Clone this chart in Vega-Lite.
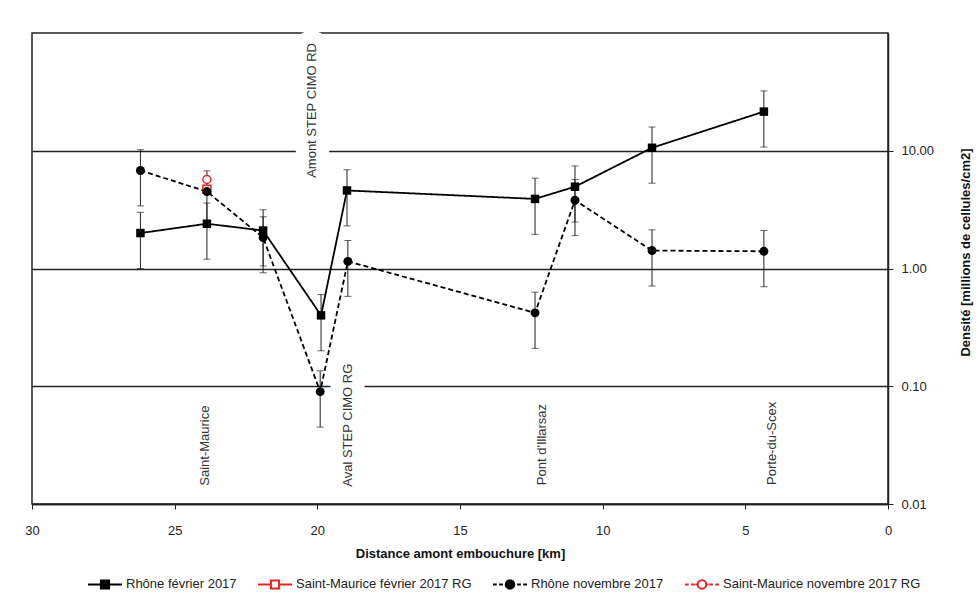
{
  "$schema": "https://vega.github.io/schema/vega-lite/v6.json",
  "width": 856,
  "height": 471,
  "autosize": {"type": "none"},
  "padding": {"left": 32, "top": 33, "right": 91, "bottom": 104},
  "background": "white",
  "config": {
    "font": "Liberation Sans",
    "view": {"stroke": "#222", "strokeWidth": 1.5},
    "axis": {"labelFont": "Liberation Sans", "titleFont": "Liberation Sans", "labelColor": "#222", "titleColor": "#111", "domainColor": "#222", "tickColor": "#222"}
  },
  "datasets": {
    "pts": [
      {"series": "Rhône février 2017", "km": 26.2, "value": 2.0, "lo": 1.0, "hi": 3.0},
      {"series": "Rhône février 2017", "km": 23.87, "value": 2.4, "lo": 1.2, "hi": 3.6},
      {"series": "Rhône février 2017", "km": 21.9, "value": 2.1, "lo": 1.05, "hi": 3.15},
      {"series": "Rhône février 2017", "km": 19.87, "value": 0.4, "lo": 0.2, "hi": 0.6},
      {"series": "Rhône février 2017", "km": 18.96, "value": 4.6, "lo": 2.3, "hi": 6.9},
      {"series": "Rhône février 2017", "km": 12.37, "value": 3.9, "lo": 1.95, "hi": 5.85},
      {"series": "Rhône février 2017", "km": 10.97, "value": 4.95, "lo": 2.48, "hi": 7.43},
      {"series": "Rhône février 2017", "km": 8.27, "value": 10.6, "lo": 5.3, "hi": 15.9},
      {"series": "Rhône février 2017", "km": 4.35, "value": 21.5, "lo": 10.75, "hi": 32.25},
      {"series": "Rhône novembre 2017", "km": 26.2, "value": 6.8, "lo": 3.4, "hi": 10.2},
      {"series": "Rhône novembre 2017", "km": 23.87, "value": 4.5, "lo": 2.25, "hi": 6.75},
      {"series": "Rhône novembre 2017", "km": 21.9, "value": 1.83, "lo": 0.92, "hi": 2.75},
      {"series": "Rhône novembre 2017", "km": 19.9, "value": 0.09, "lo": 0.045, "hi": 0.135},
      {"series": "Rhône novembre 2017", "km": 18.93, "value": 1.15, "lo": 0.58, "hi": 1.73},
      {"series": "Rhône novembre 2017", "km": 12.37, "value": 0.42, "lo": 0.21, "hi": 0.63},
      {"series": "Rhône novembre 2017", "km": 10.97, "value": 3.8, "lo": 1.9, "hi": 5.7},
      {"series": "Rhône novembre 2017", "km": 8.27, "value": 1.42, "lo": 0.71, "hi": 2.13},
      {"series": "Rhône novembre 2017", "km": 4.35, "value": 1.4, "lo": 0.7, "hi": 2.1},
      {"series": "Saint-Maurice février 2017 RG", "km": 23.87, "value": 4.7},
      {"series": "Saint-Maurice novembre 2017 RG", "km": 23.87, "value": 5.7}
    ],
    "labels": [
      {"label": "Saint-Maurice", "km": 23.94, "value": 0.0313, "boxed": true},
      {"label": "Aval STEP CIMO RG", "km": 18.93, "value": 0.0467, "boxed": true},
      {"label": "Pont d'Illarsaz", "km": 12.13, "value": 0.032, "boxed": false},
      {"label": "Porte-du-Scex", "km": 4.07, "value": 0.0327, "boxed": false},
      {"label": "Amont STEP CIMO RD", "km": 20.19, "value": 22.0, "boxed": true}
    ]
  },
  "layer": [
    {
      "data": {"name": "labels"},
      "transform": [{"filter": "datum.boxed"}],
      "mark": {"type": "text", "angle": 270, "align": "center", "baseline": "middle", "fontSize": 13, "fill": "white", "stroke": "white", "strokeWidth": 26, "strokeJoin": "round"},
      "encoding": {
        "x": {"field": "km", "type": "quantitative", "scale": {"domain": [0, 30], "reverse": true, "nice": false, "zero": false},
              "axis": {"values": [0, 5, 10, 15, 20, 25, 30], "grid": false, "title": "Distance amont embouchure [km]", "titleFontSize": 13, "titleFontWeight": "bold", "titlePadding": 10, "labelFontSize": 13, "labelPadding": 15, "tickSize": 5, "domainWidth": 1.5, "labelFlush": false}},
        "y": {"field": "value", "type": "quantitative", "title": "Densité [millions de cellules/cm2]", "scale": {"type": "log", "domain": [0.01, 100], "nice": false},
              "axis": {"orient": "right", "values": [0.01, 0.1, 1, 10], "format": ".2f", "grid": true, "gridColor": "#222", "gridWidth": 1.5, "tickSize": 5, "labelPadding": 8, "labelFontSize": 13, "titleFontWeight": "bold", "titleFontSize": 13, "titleAngle": 270, "titleX": 77, "titleY": 219, "titleBaseline": "middle", "titleAlign": "center", "domainWidth": 1.5}},
        "text": {"field": "label"}
      }
    },
    {
      "data": {"name": "labels"},
      "mark": {"type": "text", "angle": 270, "align": "center", "baseline": "middle", "fontSize": 13, "color": "#333"},
      "encoding": {
        "x": {"field": "km", "type": "quantitative"},
        "y": {"field": "value", "type": "quantitative", "title": "Densité [millions de cellules/cm2]"},
        "text": {"field": "label"}
      }
    },
    {
      "data": {"name": "pts"},
      "transform": [{"filter": "isValid(datum.lo)"}],
      "mark": {"type": "errorbar", "ticks": {"size": 7}, "color": "#222", "thickness": 1},
      "encoding": {
        "x": {"field": "km", "type": "quantitative"},
        "y": {"field": "lo", "type": "quantitative", "title": "Densité [millions de cellules/cm2]"},
        "y2": {"field": "hi"}
      }
    },
    {
      "data": {"name": "pts"},
      "transform": [{"filter": "isValid(datum.lo)"}],
      "mark": {"type": "line", "color": "black", "strokeWidth": 1.8},
      "encoding": {
        "x": {"field": "km", "type": "quantitative"},
        "y": {"field": "value", "type": "quantitative", "title": "Densité [millions de cellules/cm2]"},
        "detail": {"field": "series"},
        "strokeDash": {"field": "series", "type": "nominal", "scale": {"domain": ["Rhône février 2017", "Rhône novembre 2017"], "range": [[1, 0], [5, 3]]}, "legend": null}
      }
    },
    {
      "data": {"name": "pts"},
      "transform": [{"filter": "datum.series == 'Rhône février 2017'"}],
      "mark": {"type": "point", "shape": "square", "filled": true, "color": "black", "size": 72, "opacity": 1},
      "encoding": {
        "x": {"field": "km", "type": "quantitative"},
        "y": {"field": "value", "type": "quantitative", "title": "Densité [millions de cellules/cm2]"}
      }
    },
    {
      "data": {"name": "pts"},
      "transform": [{"filter": "datum.series == 'Saint-Maurice février 2017 RG'"}],
      "mark": {"type": "point", "shape": "square", "fill": "white", "stroke": "#e8231f", "strokeWidth": 1.5, "size": 64, "opacity": 1},
      "encoding": {
        "x": {"field": "km", "type": "quantitative"},
        "y": {"field": "value", "type": "quantitative", "title": "Densité [millions de cellules/cm2]"}
      }
    },
    {
      "data": {"name": "pts"},
      "transform": [{"filter": "datum.series == 'Rhône novembre 2017'"}],
      "mark": {"type": "point", "shape": "circle", "filled": true, "color": "black", "size": 80, "opacity": 1},
      "encoding": {
        "x": {"field": "km", "type": "quantitative"},
        "y": {"field": "value", "type": "quantitative", "title": "Densité [millions de cellules/cm2]"}
      }
    },
    {
      "data": {"name": "pts"},
      "transform": [{"filter": "datum.series == 'Saint-Maurice novembre 2017 RG'"}],
      "mark": {"type": "point", "shape": "circle", "fill": "white", "stroke": "#e8231f", "strokeWidth": 1.5, "size": 64, "opacity": 1},
      "encoding": {
        "x": {"field": "km", "type": "quantitative"},
        "y": {"field": "value", "type": "quantitative", "title": "Densité [millions de cellules/cm2]"}
      }
    },
    {
      "data": {"name": "pts"},
      "mark": {"type": "point", "opacity": 0, "strokeWidth": 2},
      "encoding": {
        "x": {"field": "km", "type": "quantitative"},
        "y": {"field": "value", "type": "quantitative", "title": "Densité [millions de cellules/cm2]"},
        "shape": {"field": "series", "type": "nominal",
          "scale": {"domain": ["Rhône février 2017", "Saint-Maurice février 2017 RG", "Rhône novembre 2017", "Saint-Maurice novembre 2017 RG"],
                    "range": ["M-1,0H1M-0.24,-0.24H0.24V0.24H-0.24Z",
                              "M-1,0H-0.24M0.24,0H1M-0.24,-0.24H0.24V0.24H-0.24Z",
                              "M-1,0H-0.78M-0.64,0H-0.42M0.42,0H0.64M0.78,0H1M0.25,0A0.25,0.25 0 1 1 -0.25,0A0.25,0.25 0 1 1 0.25,0Z",
                              "M-1,0H-0.78M-0.64,0H-0.42M-0.38,0H-0.25M0.25,0H0.38M0.42,0H0.64M0.78,0H1M0.25,0A0.25,0.25 0 1 1 -0.25,0A0.25,0.25 0 1 1 0.25,0Z"]},
          "legend": {"title": null, "orient": "none", "legendX": 55, "legendY": 533, "direction": "horizontal", "columns": 4, "symbolSize": 1156, "symbolStrokeWidth": 2, "symbolOpacity": 1, "labelFontSize": 13, "labelFont": "Liberation Sans", "labelColor": "#222", "labelOffset": 3, "columnPadding": 17, "labelLimit": 400}},
        "stroke": {"field": "series", "type": "nominal",
          "scale": {"domain": ["Rhône février 2017", "Saint-Maurice février 2017 RG", "Rhône novembre 2017", "Saint-Maurice novembre 2017 RG"], "range": ["black", "#e8231f", "black", "#e8231f"]},
          "legend": {"title": null, "orient": "none", "legendX": 55, "legendY": 533, "direction": "horizontal", "columns": 4, "symbolSize": 1156, "symbolStrokeWidth": 2, "symbolOpacity": 1, "labelFontSize": 13, "labelFont": "Liberation Sans", "labelColor": "#222", "labelOffset": 3, "columnPadding": 17, "labelLimit": 400}},
        "fill": {"field": "series", "type": "nominal",
          "scale": {"domain": ["Rhône février 2017", "Saint-Maurice février 2017 RG", "Rhône novembre 2017", "Saint-Maurice novembre 2017 RG"], "range": ["black", "white", "black", "white"]},
          "legend": {"title": null, "orient": "none", "legendX": 55, "legendY": 533, "direction": "horizontal", "columns": 4, "symbolSize": 1156, "symbolStrokeWidth": 2, "symbolOpacity": 1, "labelFontSize": 13, "labelFont": "Liberation Sans", "labelColor": "#222", "labelOffset": 3, "columnPadding": 17, "labelLimit": 400}}
      }
    }
  ]
}
